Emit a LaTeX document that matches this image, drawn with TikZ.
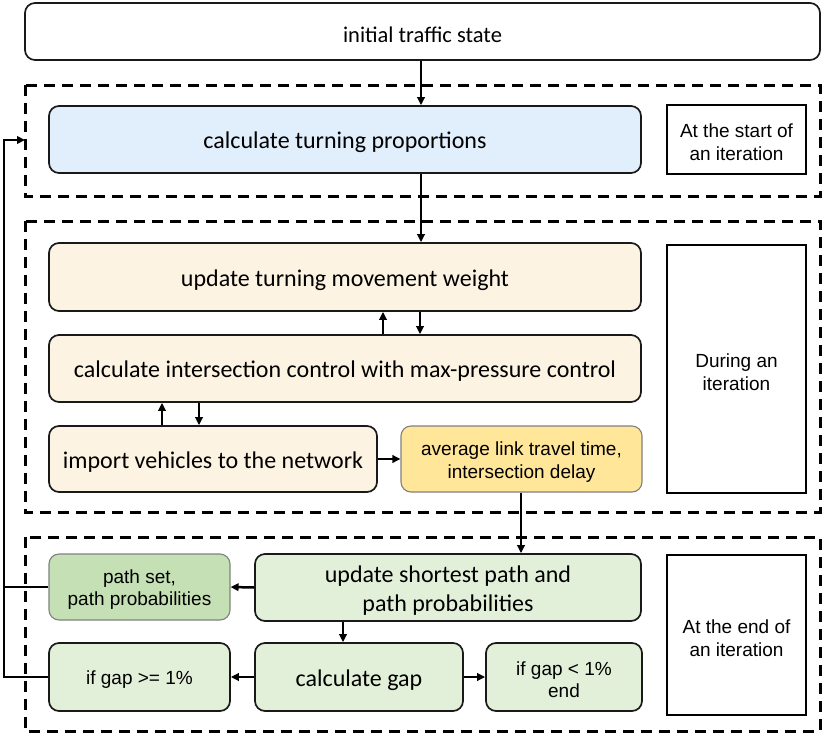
\documentclass[tikz,border=0pt]{standalone}
\usepackage{fontspec}
\setmainfont{Carlito}
\newfontfamily\arialf{Liberation Sans}
\usetikzlibrary{arrows.meta}
\definecolor{cblue}{HTML}{E1EEFB}
\definecolor{corange}{HTML}{FDF3E2}
\definecolor{cgold}{HTML}{FFE699}
\definecolor{cgreen}{HTML}{E2F0D9}
\definecolor{cgreendk}{HTML}{C5E0B4}
\tikzset{
  rbox/.style={draw=black!90, line width=1.7pt, rounded corners=10pt, inner sep=0pt},
  gbox/.style={draw=black!50, line width=1.1pt, rounded corners=10pt, inner sep=0pt},
  sbox/.style={draw=black, line width=1.4pt, inner sep=0pt},
  dbox/.style={draw=black, line width=3pt, dash pattern=on 11pt off 7pt},
  arr/.style={line width=2.5pt, -{Triangle[length=8pt,width=7.5pt]}},
  ln/.style={line width=2.5pt},
  big/.style={font=\fontsize{24}{29}\selectfont, align=center, inner sep=0pt},
  ar/.style={font=\arialf\fontsize{19}{23}\selectfont, align=center, inner sep=0pt},
  dn/.style={yshift=-3pt},
}
\begin{document}
\begin{tikzpicture}[x=1pt,y=-1pt]
\useasboundingbox (0,0) rectangle (823,734);
% dashed group boxes
\draw[dbox] (25,85) rectangle (820,196);
\draw[dbox] (25,221) rectangle (820,512);
\draw[dbox] (25,537) rectangle (820,731);
% top
\node[rbox, fill=white, minimum width=795pt, minimum height=57pt] (init) at (422.5,31.5) {};
\node[big, font=\fontsize{22.5}{26}\selectfont, dn] (init-t) at (init.center) {initial traffic state};
% group 1
\node[rbox, fill=cblue, minimum width=592pt, minimum height=67pt] (ctp) at (345,139.5) {};
\node[big, dn] (ctp-t) at (ctp.center) {calculate turning proportions};
\node[sbox, minimum width=139pt, minimum height=69pt] (l1) at (736.5,139.5) {};
\node[ar, dn] (l1-t) at (l1.center) {At the start of\\an iteration};
% group 2
\node[rbox, fill=corange, minimum width=592pt, minimum height=68pt] (utm) at (345,277) {};
\node[big, dn] (utm-t) at (utm.center) {update turning movement weight};
\node[rbox, fill=corange, minimum width=592pt, minimum height=67pt] (cic) at (345,368.5) {};
\node[big, dn] (cic-t) at (cic.center) {calculate intersection control with max-pressure control};
\node[rbox, fill=corange, minimum width=328pt, minimum height=66pt] (imp) at (213,459) {};
\node[big, dn] (imp-t) at (imp.center) {import vehicles to the network};
\node[gbox, fill=cgold, minimum width=241pt, minimum height=66pt] (avg) at (521.5,459) {};
\node[ar, dn] (avg-t) at (avg.center) {average link travel time,\\intersection delay};
\node[sbox, minimum width=139pt, minimum height=248pt] (l2) at (736.5,369) {};
\node[ar, dn] (l2-t) at (l2.center) {During an\\iteration};
% group 3
\node[rbox, fill=cgreen, minimum width=386pt, minimum height=67pt] (usp) at (448,587.5) {};
\node[big, dn] (usp-t) at (usp.center) {update shortest path and\\path probabilities};
\node[gbox, fill=cgreendk, minimum width=181pt, minimum height=66pt] (ps) at (139.5,587) {};
\node[ar, font=\arialf\fontsize{19}{22}\selectfont, dn] (ps-t) at (ps.center) {path set,\\path probabilities};
\node[rbox, fill=cgreen, minimum width=208pt, minimum height=68pt] (cg) at (359,677) {};
\node[big, dn] (cg-t) at (cg.center) {calculate gap};
\node[rbox, fill=cgreen, minimum width=181pt, minimum height=68pt] (ge) at (139.5,677) {};
\node[ar, dn] (ge-t) at (ge.center) {if gap >= 1\%};
\node[rbox, fill=cgreen, minimum width=156pt, minimum height=68pt] (lt) at (564,677) {};
\node[ar, font=\arialf\fontsize{19}{22}\selectfont, dn] (lt-t) at (lt.center) {if gap < 1\%\\end};
\node[sbox, minimum width=139pt, minimum height=160pt] (l3) at (736.5,635) {};
\node[ar, dn] (l3-t) at (l3.center) {At the end of\\an iteration};
% arrows
\draw[arr] (init.south -| 421,0) -- (ctp.north -| 421,0);
\draw[arr] (ctp.south -| 421,0) -- (utm.north -| 421,0);
\draw[arr] (cic.north -| 383,0) -- (utm.south -| 383,0);
\draw[arr] (utm.south -| 420,0) -- (cic.north -| 420,0);
\draw[arr] (imp.north -| 162,0) -- (cic.south -| 162,0);
\draw[arr] (cic.south -| 199,0) -- (imp.north -| 199,0);
\draw[arr] (imp.east) -- (avg.west);
\draw[arr] (avg.south -| 521,0) -- (usp.north -| 521,0);
\draw[arr] (usp.west) -- (ps.east);
\draw[arr] (usp.south -| 343,0) -- (cg.north -| 343,0);
\draw[arr] (cg.west) -- (ge.east);
\draw[arr] (cg.east) -- (lt.west);
% feedback
\coordinate (fb) at (25,140);
\draw[ln] (ps.west) -- (4,587);
\draw[arr] (ge.west) -- (4,677) -- (4,140) -- (fb);
\end{tikzpicture}
\end{document}
